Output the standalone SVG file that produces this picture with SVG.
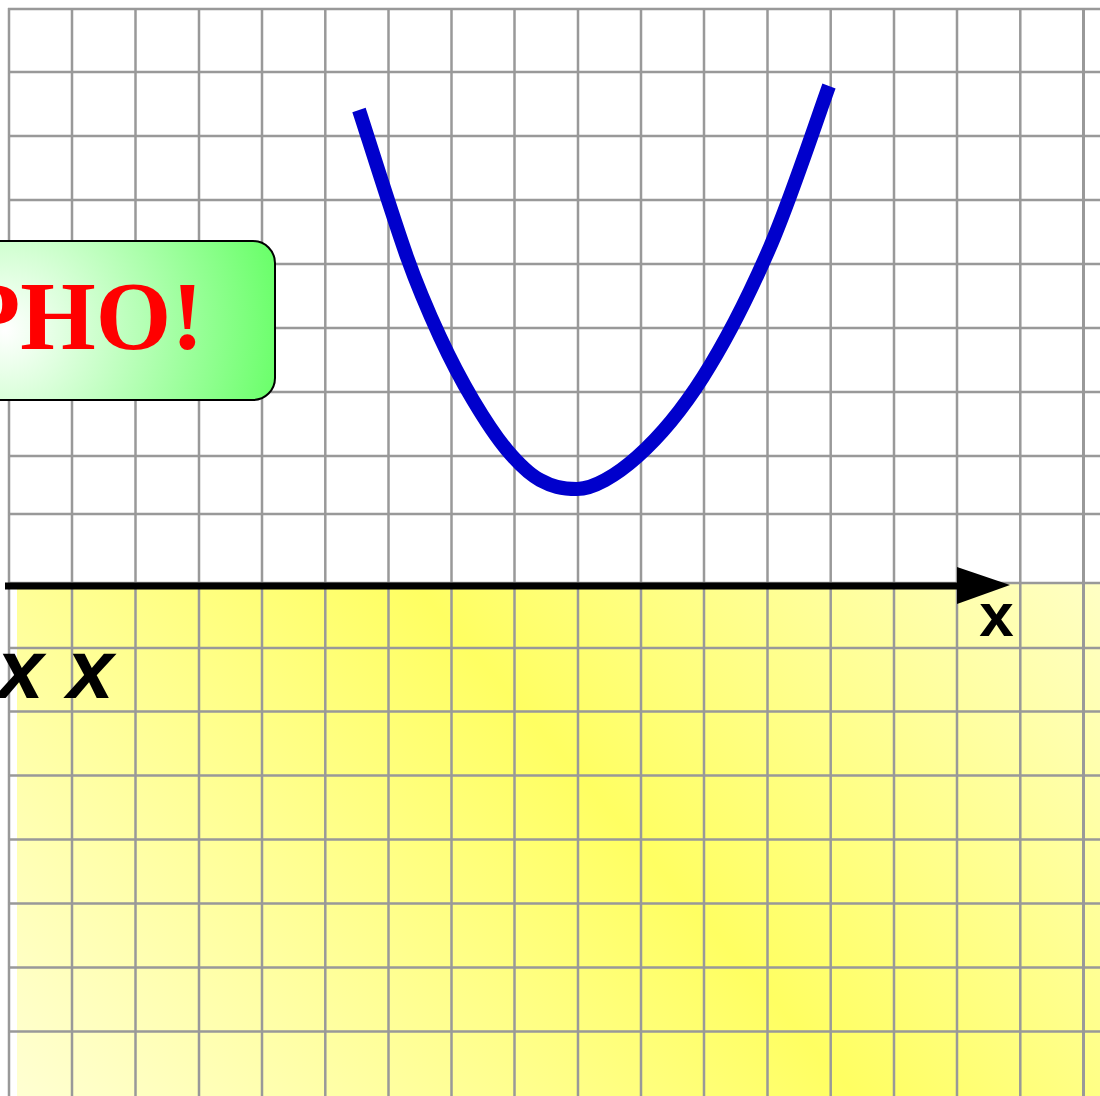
<svg xmlns="http://www.w3.org/2000/svg" width="1100" height="1096" viewBox="0 0 1100 1096">
<style>
.grid line{stroke:#999999;stroke-width:2.5}
.curve{fill:none;stroke:#0000cc;stroke-width:14;stroke-linecap:butt;stroke-linejoin:round}
.axis{stroke:#000;stroke-width:7}
.lbl{font-family:"Liberation Sans",Arial,sans-serif;font-weight:bold;fill:#000}
.big{font-family:"Liberation Serif","Times New Roman",serif;font-weight:bold;fill:#ff0000}
</style>
<defs>
<linearGradient id="yel" gradientUnits="userSpaceOnUse" x1="154" y1="1254" x2="1029" y2="501">
<stop offset="0" stop-color="#ffffd2"/>
<stop offset="0.55" stop-color="#ffff62"/>
<stop offset="1" stop-color="#ffffc4"/>
</linearGradient>
<radialGradient id="grn" gradientUnits="userSpaceOnUse" cx="5" cy="330" r="285">
<stop offset="0" stop-color="#ffffff"/>
<stop offset="1" stop-color="#66ff66"/>
</radialGradient>
</defs>
<rect width="1100" height="1096" fill="#ffffff"/>
<g id="yellow-area"><rect x="17" y="582" width="1083" height="514" fill="url(#yel)"/></g>
<g id="grid" class="grid">
<line x1="9" y1="8" x2="9" y2="1096"/>
<line x1="72" y1="8" x2="72" y2="1096"/>
<line x1="135.5" y1="8" x2="135.5" y2="1096"/>
<line x1="199" y1="8" x2="199" y2="1096"/>
<line x1="262" y1="8" x2="262" y2="1096"/>
<line x1="325.3" y1="8" x2="325.3" y2="1096"/>
<line x1="388.5" y1="8" x2="388.5" y2="1096"/>
<line x1="451.5" y1="8" x2="451.5" y2="1096"/>
<line x1="514.5" y1="8" x2="514.5" y2="1096"/>
<line x1="578" y1="8" x2="578" y2="1096"/>
<line x1="641" y1="8" x2="641" y2="1096"/>
<line x1="704" y1="8" x2="704" y2="1096"/>
<line x1="767.5" y1="8" x2="767.5" y2="1096"/>
<line x1="830.7" y1="8" x2="830.7" y2="1096"/>
<line x1="894" y1="8" x2="894" y2="1096"/>
<line x1="957" y1="8" x2="957" y2="1096"/>
<line x1="1020.3" y1="8" x2="1020.3" y2="1096"/>
<line x1="1083.5" y1="8" x2="1083.5" y2="1096" style="stroke-width:3"/>
<line x1="8" y1="9" x2="1100" y2="9"/>
<line x1="8" y1="72" x2="1100" y2="72"/>
<line x1="8" y1="136" x2="1100" y2="136"/>
<line x1="8" y1="200" x2="1100" y2="200"/>
<line x1="8" y1="264" x2="1100" y2="264"/>
<line x1="8" y1="328" x2="1100" y2="328"/>
<line x1="8" y1="392" x2="1100" y2="392"/>
<line x1="8" y1="456" x2="1100" y2="456"/>
<line x1="8" y1="514" x2="1100" y2="514"/>
<line x1="8" y1="583" x2="1100" y2="583"/>
<line x1="8" y1="648" x2="1100" y2="648"/>
<line x1="8" y1="711.5" x2="1100" y2="711.5"/>
<line x1="8" y1="775.5" x2="1100" y2="775.5"/>
<line x1="8" y1="839.5" x2="1100" y2="839.5"/>
<line x1="8" y1="903.5" x2="1100" y2="903.5"/>
<line x1="8" y1="967.5" x2="1100" y2="967.5"/>
<line x1="8" y1="1031.5" x2="1100" y2="1031.5"/>
</g>
<g id="banner">
<rect x="-40" y="241" width="315" height="159" rx="22" ry="22" fill="url(#grn)" stroke="#000" stroke-width="2"/>
<text class="big" x="-39" y="349" font-size="97">PHO!</text>
</g>
<g id="curve">
<path class="curve" d="M359,110 C367,134.5 393.5,219.2 407,257 C420.5,294.8 429,313.2 440,337 C451,360.8 461.8,381.2 473,400 C484.2,418.8 495.8,436.7 507,450 C518.2,463.3 528.3,473.7 540,480 C551.7,486.3 561,489 577,489 C593.2,489 616,475.7 637,457 C658,438.3 680.8,412 703,377 C725.2,342 749,295.5 770,247 C791,198.5 819.2,112.8 829,86"/>
</g>
<g id="axis">
<line class="axis" x1="5" y1="586" x2="962" y2="586"/>
<polygon points="957,567 1010,585 957,604" fill="#000"/>
<text class="lbl" x="996.5" y="636" font-size="62" text-anchor="middle">x</text>
</g>
<g id="labels">
<text class="lbl" x="-3" y="698" font-size="84" font-style="italic">x x</text>
</g>
</svg>
